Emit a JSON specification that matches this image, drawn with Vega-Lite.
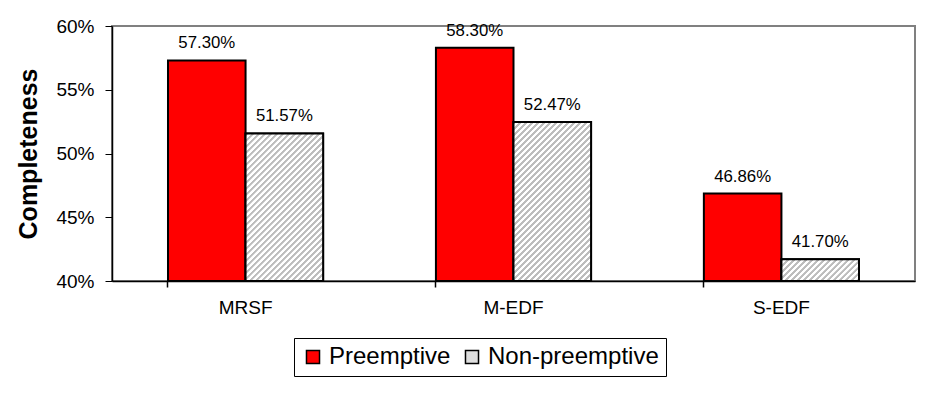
{
  "$schema": "https://vega.github.io/schema/vega-lite/v6.json",
  "width": 803,
  "height": 255,
  "autosize": {"type": "none"},
  "padding": {"left": 112, "top": 26, "right": 24, "bottom": 113},
  "background": "white",
  "config": {
    "font": "Liberation Sans",
    "view": {"stroke": "#808080", "strokeWidth": 2}
  },
  "data": {
    "values": [
      {"algo": "MRSF", "mode": "Preemptive", "value": 0.573},
      {"algo": "MRSF", "mode": "Non-preemptive", "value": 0.5157},
      {"algo": "M-EDF", "mode": "Preemptive", "value": 0.583},
      {"algo": "M-EDF", "mode": "Non-preemptive", "value": 0.5247},
      {"algo": "S-EDF", "mode": "Preemptive", "value": 0.4686},
      {"algo": "S-EDF", "mode": "Non-preemptive", "value": 0.417}
    ]
  },
  "encoding": {
    "x": {
      "field": "algo", "type": "nominal", "sort": ["MRSF", "M-EDF", "S-EDF"],
      "scale": {"paddingInner": 0.421, "paddingOuter": 0.209},
      "axis": {"title": null, "labelAngle": 0, "labelFontSize": 19, "labelColor": "black",
               "domainColor": "black", "domainWidth": 1.5, "tickColor": "black", "tickSize": 6, "tickWidth": 1.5,
               "bandPosition": 0, "labelPadding": 11}
    },
    "xOffset": {"field": "mode", "type": "nominal", "sort": ["Preemptive", "Non-preemptive"], "scale": {"paddingInner": 0, "paddingOuter": 0}},
    "y": {
      "field": "value", "type": "quantitative",
      "scale": {"domain": [0.4, 0.6], "zero": false, "nice": false},
      "axis": {"title": "Completeness", "titleFontSize": 25, "titleFontWeight": "bold", "titleColor": "black",
               "format": ".0%", "values": [0.4, 0.45, 0.5, 0.55, 0.6], "labelFontSize": 19, "labelColor": "black",
               "grid": false, "domainColor": "black", "domainWidth": 1.5, "tickColor": "black", "tickSize": 7,
               "labelPadding": 11, "titlePadding": 14}
    },
    "y2": {"datum": 0.4}
  },
  "layer": [
    {
      "mark": {"type": "bar", "stroke": "black", "strokeWidth": 2},
      "encoding": {
        "color": {
          "field": "mode", "type": "nominal", "sort": ["Preemptive", "Non-preemptive"],
          "scale": {"range": ["#ff0000", "#dedede"]},
          "legend": {"title": null, "orient": "none", "direction": "horizontal", "legendX": 182, "legendY": 312,
                     "strokeColor": "black", "padding": 7, "symbolType": "square", "symbolSize": 170,
                     "symbolStrokeColor": "black", "symbolStrokeWidth": 1.5, "labelFontSize": 24, "labelColor": "black",
                     "columnPadding": 9, "symbolOpacity": 1, "labelOffset": 4, "labelLimit": 400,
                     "encode": {"symbols": {"update": {"stroke": {"value": "black"}, "strokeWidth": {"value": 1.5}, "fill": [
                       {"test": "datum.value === 'Non-preemptive'", "value": {"gradient": "linear", "x1": 0, "y1": 0, "x2": 1, "y2": 1, "stops": [
                         {"offset": 0, "color": "#ffffff"}, {"offset": 0.02, "color": "#bdbdbd"}, {"offset": 0.12, "color": "#bdbdbd"}, {"offset": 0.14, "color": "#ffffff"},
                         {"offset": 0.25, "color": "#ffffff"}, {"offset": 0.27, "color": "#bdbdbd"}, {"offset": 0.37, "color": "#bdbdbd"}, {"offset": 0.39, "color": "#ffffff"},
                         {"offset": 0.5, "color": "#ffffff"}, {"offset": 0.52, "color": "#bdbdbd"}, {"offset": 0.62, "color": "#bdbdbd"}, {"offset": 0.64, "color": "#ffffff"},
                         {"offset": 0.75, "color": "#ffffff"}, {"offset": 0.77, "color": "#bdbdbd"}, {"offset": 0.87, "color": "#bdbdbd"}, {"offset": 0.89, "color": "#ffffff"},
                         {"offset": 1, "color": "#ffffff"}]}},
                       {"value": "#ff0000"}]}}}}
        }
      }
    },
    {
      "transform": [{"filter": "datum.mode === 'Non-preemptive' && datum.algo === 'MRSF'"}],
      "mark": {"type": "bar", "stroke": "black", "strokeWidth": 2,
               "fill": {"gradient": "linear", "x1": 0, "y1": 0, "x2": 0.6698, "y2": 1.275, "stops": [
{"offset":0,"color":"#ffffff"},{"offset":0.001,"color":"#bdbdbd"},{"offset":0.012,"color":"#bdbdbd"},{"offset":0.013,"color":"#ffffff"},
{"offset":0.025,"color":"#ffffff"},{"offset":0.026,"color":"#bdbdbd"},{"offset":0.037,"color":"#bdbdbd"},{"offset":0.038,"color":"#ffffff"},
{"offset":0.05,"color":"#ffffff"},{"offset":0.051,"color":"#bdbdbd"},{"offset":0.062,"color":"#bdbdbd"},{"offset":0.063,"color":"#ffffff"},
{"offset":0.075,"color":"#ffffff"},{"offset":0.076,"color":"#bdbdbd"},{"offset":0.087,"color":"#bdbdbd"},{"offset":0.088,"color":"#ffffff"},
{"offset":0.1,"color":"#ffffff"},{"offset":0.101,"color":"#bdbdbd"},{"offset":0.112,"color":"#bdbdbd"},{"offset":0.113,"color":"#ffffff"},
{"offset":0.125,"color":"#ffffff"},{"offset":0.126,"color":"#bdbdbd"},{"offset":0.137,"color":"#bdbdbd"},{"offset":0.138,"color":"#ffffff"},
{"offset":0.15,"color":"#ffffff"},{"offset":0.151,"color":"#bdbdbd"},{"offset":0.162,"color":"#bdbdbd"},{"offset":0.163,"color":"#ffffff"},
{"offset":0.175,"color":"#ffffff"},{"offset":0.176,"color":"#bdbdbd"},{"offset":0.187,"color":"#bdbdbd"},{"offset":0.188,"color":"#ffffff"},
{"offset":0.2,"color":"#ffffff"},{"offset":0.201,"color":"#bdbdbd"},{"offset":0.212,"color":"#bdbdbd"},{"offset":0.213,"color":"#ffffff"},
{"offset":0.225,"color":"#ffffff"},{"offset":0.226,"color":"#bdbdbd"},{"offset":0.237,"color":"#bdbdbd"},{"offset":0.238,"color":"#ffffff"},
{"offset":0.25,"color":"#ffffff"},{"offset":0.251,"color":"#bdbdbd"},{"offset":0.262,"color":"#bdbdbd"},{"offset":0.263,"color":"#ffffff"},
{"offset":0.275,"color":"#ffffff"},{"offset":0.276,"color":"#bdbdbd"},{"offset":0.287,"color":"#bdbdbd"},{"offset":0.288,"color":"#ffffff"},
{"offset":0.3,"color":"#ffffff"},{"offset":0.301,"color":"#bdbdbd"},{"offset":0.312,"color":"#bdbdbd"},{"offset":0.313,"color":"#ffffff"},
{"offset":0.325,"color":"#ffffff"},{"offset":0.326,"color":"#bdbdbd"},{"offset":0.337,"color":"#bdbdbd"},{"offset":0.338,"color":"#ffffff"},
{"offset":0.35,"color":"#ffffff"},{"offset":0.351,"color":"#bdbdbd"},{"offset":0.362,"color":"#bdbdbd"},{"offset":0.363,"color":"#ffffff"},
{"offset":0.375,"color":"#ffffff"},{"offset":0.376,"color":"#bdbdbd"},{"offset":0.387,"color":"#bdbdbd"},{"offset":0.388,"color":"#ffffff"},
{"offset":0.4,"color":"#ffffff"},{"offset":0.401,"color":"#bdbdbd"},{"offset":0.412,"color":"#bdbdbd"},{"offset":0.413,"color":"#ffffff"},
{"offset":0.425,"color":"#ffffff"},{"offset":0.426,"color":"#bdbdbd"},{"offset":0.437,"color":"#bdbdbd"},{"offset":0.438,"color":"#ffffff"},
{"offset":0.45,"color":"#ffffff"},{"offset":0.451,"color":"#bdbdbd"},{"offset":0.462,"color":"#bdbdbd"},{"offset":0.463,"color":"#ffffff"},
{"offset":0.475,"color":"#ffffff"},{"offset":0.476,"color":"#bdbdbd"},{"offset":0.487,"color":"#bdbdbd"},{"offset":0.488,"color":"#ffffff"},
{"offset":0.5,"color":"#ffffff"},{"offset":0.501,"color":"#bdbdbd"},{"offset":0.512,"color":"#bdbdbd"},{"offset":0.513,"color":"#ffffff"},
{"offset":0.525,"color":"#ffffff"},{"offset":0.526,"color":"#bdbdbd"},{"offset":0.537,"color":"#bdbdbd"},{"offset":0.538,"color":"#ffffff"},
{"offset":0.55,"color":"#ffffff"},{"offset":0.551,"color":"#bdbdbd"},{"offset":0.562,"color":"#bdbdbd"},{"offset":0.563,"color":"#ffffff"},
{"offset":0.575,"color":"#ffffff"},{"offset":0.576,"color":"#bdbdbd"},{"offset":0.587,"color":"#bdbdbd"},{"offset":0.588,"color":"#ffffff"},
{"offset":0.6,"color":"#ffffff"},{"offset":0.601,"color":"#bdbdbd"},{"offset":0.612,"color":"#bdbdbd"},{"offset":0.613,"color":"#ffffff"},
{"offset":0.625,"color":"#ffffff"},{"offset":0.626,"color":"#bdbdbd"},{"offset":0.637,"color":"#bdbdbd"},{"offset":0.638,"color":"#ffffff"},
{"offset":0.65,"color":"#ffffff"},{"offset":0.651,"color":"#bdbdbd"},{"offset":0.662,"color":"#bdbdbd"},{"offset":0.663,"color":"#ffffff"},
{"offset":0.675,"color":"#ffffff"},{"offset":0.676,"color":"#bdbdbd"},{"offset":0.687,"color":"#bdbdbd"},{"offset":0.688,"color":"#ffffff"},
{"offset":0.7,"color":"#ffffff"},{"offset":0.701,"color":"#bdbdbd"},{"offset":0.712,"color":"#bdbdbd"},{"offset":0.713,"color":"#ffffff"},
{"offset":0.725,"color":"#ffffff"},{"offset":0.726,"color":"#bdbdbd"},{"offset":0.737,"color":"#bdbdbd"},{"offset":0.738,"color":"#ffffff"},
{"offset":0.75,"color":"#ffffff"},{"offset":0.751,"color":"#bdbdbd"},{"offset":0.762,"color":"#bdbdbd"},{"offset":0.763,"color":"#ffffff"},
{"offset":0.775,"color":"#ffffff"},{"offset":0.776,"color":"#bdbdbd"},{"offset":0.787,"color":"#bdbdbd"},{"offset":0.788,"color":"#ffffff"},
{"offset":0.8,"color":"#ffffff"},{"offset":0.801,"color":"#bdbdbd"},{"offset":0.812,"color":"#bdbdbd"},{"offset":0.813,"color":"#ffffff"},
{"offset":0.825,"color":"#ffffff"},{"offset":0.826,"color":"#bdbdbd"},{"offset":0.837,"color":"#bdbdbd"},{"offset":0.838,"color":"#ffffff"},
{"offset":0.85,"color":"#ffffff"},{"offset":0.851,"color":"#bdbdbd"},{"offset":0.862,"color":"#bdbdbd"},{"offset":0.863,"color":"#ffffff"},
{"offset":0.875,"color":"#ffffff"},{"offset":0.876,"color":"#bdbdbd"},{"offset":0.887,"color":"#bdbdbd"},{"offset":0.888,"color":"#ffffff"},
{"offset":0.9,"color":"#ffffff"},{"offset":0.901,"color":"#bdbdbd"},{"offset":0.912,"color":"#bdbdbd"},{"offset":0.913,"color":"#ffffff"},
{"offset":0.925,"color":"#ffffff"},{"offset":0.926,"color":"#bdbdbd"},{"offset":0.937,"color":"#bdbdbd"},{"offset":0.938,"color":"#ffffff"},
{"offset":0.95,"color":"#ffffff"},{"offset":0.951,"color":"#bdbdbd"},{"offset":0.962,"color":"#bdbdbd"},{"offset":0.963,"color":"#ffffff"},
{"offset":0.975,"color":"#ffffff"},{"offset":0.976,"color":"#bdbdbd"},{"offset":0.987,"color":"#bdbdbd"},{"offset":0.988,"color":"#ffffff"},
{"offset":1,"color":"#ffffff"}]}}
    },
    {
      "transform": [{"filter": "datum.mode === 'Non-preemptive' && datum.algo === 'M-EDF'"}],
      "mark": {"type": "bar", "stroke": "black", "strokeWidth": 2,
               "fill": {"gradient": "linear", "x1": 0, "y1": 0, "x2": 0.5946, "y2": 1.2197, "stops": [
{"offset":0,"color":"#ffffff"},{"offset":0.001,"color":"#bdbdbd"},{"offset":0.012,"color":"#bdbdbd"},{"offset":0.013,"color":"#ffffff"},
{"offset":0.025,"color":"#ffffff"},{"offset":0.026,"color":"#bdbdbd"},{"offset":0.037,"color":"#bdbdbd"},{"offset":0.038,"color":"#ffffff"},
{"offset":0.05,"color":"#ffffff"},{"offset":0.051,"color":"#bdbdbd"},{"offset":0.062,"color":"#bdbdbd"},{"offset":0.063,"color":"#ffffff"},
{"offset":0.075,"color":"#ffffff"},{"offset":0.076,"color":"#bdbdbd"},{"offset":0.087,"color":"#bdbdbd"},{"offset":0.088,"color":"#ffffff"},
{"offset":0.1,"color":"#ffffff"},{"offset":0.101,"color":"#bdbdbd"},{"offset":0.112,"color":"#bdbdbd"},{"offset":0.113,"color":"#ffffff"},
{"offset":0.125,"color":"#ffffff"},{"offset":0.126,"color":"#bdbdbd"},{"offset":0.137,"color":"#bdbdbd"},{"offset":0.138,"color":"#ffffff"},
{"offset":0.15,"color":"#ffffff"},{"offset":0.151,"color":"#bdbdbd"},{"offset":0.162,"color":"#bdbdbd"},{"offset":0.163,"color":"#ffffff"},
{"offset":0.175,"color":"#ffffff"},{"offset":0.176,"color":"#bdbdbd"},{"offset":0.187,"color":"#bdbdbd"},{"offset":0.188,"color":"#ffffff"},
{"offset":0.2,"color":"#ffffff"},{"offset":0.201,"color":"#bdbdbd"},{"offset":0.212,"color":"#bdbdbd"},{"offset":0.213,"color":"#ffffff"},
{"offset":0.225,"color":"#ffffff"},{"offset":0.226,"color":"#bdbdbd"},{"offset":0.237,"color":"#bdbdbd"},{"offset":0.238,"color":"#ffffff"},
{"offset":0.25,"color":"#ffffff"},{"offset":0.251,"color":"#bdbdbd"},{"offset":0.262,"color":"#bdbdbd"},{"offset":0.263,"color":"#ffffff"},
{"offset":0.275,"color":"#ffffff"},{"offset":0.276,"color":"#bdbdbd"},{"offset":0.287,"color":"#bdbdbd"},{"offset":0.288,"color":"#ffffff"},
{"offset":0.3,"color":"#ffffff"},{"offset":0.301,"color":"#bdbdbd"},{"offset":0.312,"color":"#bdbdbd"},{"offset":0.313,"color":"#ffffff"},
{"offset":0.325,"color":"#ffffff"},{"offset":0.326,"color":"#bdbdbd"},{"offset":0.337,"color":"#bdbdbd"},{"offset":0.338,"color":"#ffffff"},
{"offset":0.35,"color":"#ffffff"},{"offset":0.351,"color":"#bdbdbd"},{"offset":0.362,"color":"#bdbdbd"},{"offset":0.363,"color":"#ffffff"},
{"offset":0.375,"color":"#ffffff"},{"offset":0.376,"color":"#bdbdbd"},{"offset":0.387,"color":"#bdbdbd"},{"offset":0.388,"color":"#ffffff"},
{"offset":0.4,"color":"#ffffff"},{"offset":0.401,"color":"#bdbdbd"},{"offset":0.412,"color":"#bdbdbd"},{"offset":0.413,"color":"#ffffff"},
{"offset":0.425,"color":"#ffffff"},{"offset":0.426,"color":"#bdbdbd"},{"offset":0.437,"color":"#bdbdbd"},{"offset":0.438,"color":"#ffffff"},
{"offset":0.45,"color":"#ffffff"},{"offset":0.451,"color":"#bdbdbd"},{"offset":0.462,"color":"#bdbdbd"},{"offset":0.463,"color":"#ffffff"},
{"offset":0.475,"color":"#ffffff"},{"offset":0.476,"color":"#bdbdbd"},{"offset":0.487,"color":"#bdbdbd"},{"offset":0.488,"color":"#ffffff"},
{"offset":0.5,"color":"#ffffff"},{"offset":0.501,"color":"#bdbdbd"},{"offset":0.512,"color":"#bdbdbd"},{"offset":0.513,"color":"#ffffff"},
{"offset":0.525,"color":"#ffffff"},{"offset":0.526,"color":"#bdbdbd"},{"offset":0.537,"color":"#bdbdbd"},{"offset":0.538,"color":"#ffffff"},
{"offset":0.55,"color":"#ffffff"},{"offset":0.551,"color":"#bdbdbd"},{"offset":0.562,"color":"#bdbdbd"},{"offset":0.563,"color":"#ffffff"},
{"offset":0.575,"color":"#ffffff"},{"offset":0.576,"color":"#bdbdbd"},{"offset":0.587,"color":"#bdbdbd"},{"offset":0.588,"color":"#ffffff"},
{"offset":0.6,"color":"#ffffff"},{"offset":0.601,"color":"#bdbdbd"},{"offset":0.612,"color":"#bdbdbd"},{"offset":0.613,"color":"#ffffff"},
{"offset":0.625,"color":"#ffffff"},{"offset":0.626,"color":"#bdbdbd"},{"offset":0.637,"color":"#bdbdbd"},{"offset":0.638,"color":"#ffffff"},
{"offset":0.65,"color":"#ffffff"},{"offset":0.651,"color":"#bdbdbd"},{"offset":0.662,"color":"#bdbdbd"},{"offset":0.663,"color":"#ffffff"},
{"offset":0.675,"color":"#ffffff"},{"offset":0.676,"color":"#bdbdbd"},{"offset":0.687,"color":"#bdbdbd"},{"offset":0.688,"color":"#ffffff"},
{"offset":0.7,"color":"#ffffff"},{"offset":0.701,"color":"#bdbdbd"},{"offset":0.712,"color":"#bdbdbd"},{"offset":0.713,"color":"#ffffff"},
{"offset":0.725,"color":"#ffffff"},{"offset":0.726,"color":"#bdbdbd"},{"offset":0.737,"color":"#bdbdbd"},{"offset":0.738,"color":"#ffffff"},
{"offset":0.75,"color":"#ffffff"},{"offset":0.751,"color":"#bdbdbd"},{"offset":0.762,"color":"#bdbdbd"},{"offset":0.763,"color":"#ffffff"},
{"offset":0.775,"color":"#ffffff"},{"offset":0.776,"color":"#bdbdbd"},{"offset":0.787,"color":"#bdbdbd"},{"offset":0.788,"color":"#ffffff"},
{"offset":0.8,"color":"#ffffff"},{"offset":0.801,"color":"#bdbdbd"},{"offset":0.812,"color":"#bdbdbd"},{"offset":0.813,"color":"#ffffff"},
{"offset":0.825,"color":"#ffffff"},{"offset":0.826,"color":"#bdbdbd"},{"offset":0.837,"color":"#bdbdbd"},{"offset":0.838,"color":"#ffffff"},
{"offset":0.85,"color":"#ffffff"},{"offset":0.851,"color":"#bdbdbd"},{"offset":0.862,"color":"#bdbdbd"},{"offset":0.863,"color":"#ffffff"},
{"offset":0.875,"color":"#ffffff"},{"offset":0.876,"color":"#bdbdbd"},{"offset":0.887,"color":"#bdbdbd"},{"offset":0.888,"color":"#ffffff"},
{"offset":0.9,"color":"#ffffff"},{"offset":0.901,"color":"#bdbdbd"},{"offset":0.912,"color":"#bdbdbd"},{"offset":0.913,"color":"#ffffff"},
{"offset":0.925,"color":"#ffffff"},{"offset":0.926,"color":"#bdbdbd"},{"offset":0.937,"color":"#bdbdbd"},{"offset":0.938,"color":"#ffffff"},
{"offset":0.95,"color":"#ffffff"},{"offset":0.951,"color":"#bdbdbd"},{"offset":0.962,"color":"#bdbdbd"},{"offset":0.963,"color":"#ffffff"},
{"offset":0.975,"color":"#ffffff"},{"offset":0.976,"color":"#bdbdbd"},{"offset":0.987,"color":"#bdbdbd"},{"offset":0.988,"color":"#ffffff"},
{"offset":1,"color":"#ffffff"}]}}
    },
    {
      "transform": [{"filter": "datum.mode === 'Non-preemptive' && datum.algo === 'S-EDF'"}],
      "mark": {"type": "bar", "stroke": "black", "strokeWidth": 2,
               "fill": {"gradient": "linear", "x1": 0, "y1": 0, "x2": 2.8722, "y2": 0.8033, "stops": [
{"offset":0,"color":"#ffffff"},{"offset":0.001,"color":"#bdbdbd"},{"offset":0.012,"color":"#bdbdbd"},{"offset":0.013,"color":"#ffffff"},
{"offset":0.025,"color":"#ffffff"},{"offset":0.026,"color":"#bdbdbd"},{"offset":0.037,"color":"#bdbdbd"},{"offset":0.038,"color":"#ffffff"},
{"offset":0.05,"color":"#ffffff"},{"offset":0.051,"color":"#bdbdbd"},{"offset":0.062,"color":"#bdbdbd"},{"offset":0.063,"color":"#ffffff"},
{"offset":0.075,"color":"#ffffff"},{"offset":0.076,"color":"#bdbdbd"},{"offset":0.087,"color":"#bdbdbd"},{"offset":0.088,"color":"#ffffff"},
{"offset":0.1,"color":"#ffffff"},{"offset":0.101,"color":"#bdbdbd"},{"offset":0.112,"color":"#bdbdbd"},{"offset":0.113,"color":"#ffffff"},
{"offset":0.125,"color":"#ffffff"},{"offset":0.126,"color":"#bdbdbd"},{"offset":0.137,"color":"#bdbdbd"},{"offset":0.138,"color":"#ffffff"},
{"offset":0.15,"color":"#ffffff"},{"offset":0.151,"color":"#bdbdbd"},{"offset":0.162,"color":"#bdbdbd"},{"offset":0.163,"color":"#ffffff"},
{"offset":0.175,"color":"#ffffff"},{"offset":0.176,"color":"#bdbdbd"},{"offset":0.187,"color":"#bdbdbd"},{"offset":0.188,"color":"#ffffff"},
{"offset":0.2,"color":"#ffffff"},{"offset":0.201,"color":"#bdbdbd"},{"offset":0.212,"color":"#bdbdbd"},{"offset":0.213,"color":"#ffffff"},
{"offset":0.225,"color":"#ffffff"},{"offset":0.226,"color":"#bdbdbd"},{"offset":0.237,"color":"#bdbdbd"},{"offset":0.238,"color":"#ffffff"},
{"offset":0.25,"color":"#ffffff"},{"offset":0.251,"color":"#bdbdbd"},{"offset":0.262,"color":"#bdbdbd"},{"offset":0.263,"color":"#ffffff"},
{"offset":0.275,"color":"#ffffff"},{"offset":0.276,"color":"#bdbdbd"},{"offset":0.287,"color":"#bdbdbd"},{"offset":0.288,"color":"#ffffff"},
{"offset":0.3,"color":"#ffffff"},{"offset":0.301,"color":"#bdbdbd"},{"offset":0.312,"color":"#bdbdbd"},{"offset":0.313,"color":"#ffffff"},
{"offset":0.325,"color":"#ffffff"},{"offset":0.326,"color":"#bdbdbd"},{"offset":0.337,"color":"#bdbdbd"},{"offset":0.338,"color":"#ffffff"},
{"offset":0.35,"color":"#ffffff"},{"offset":0.351,"color":"#bdbdbd"},{"offset":0.362,"color":"#bdbdbd"},{"offset":0.363,"color":"#ffffff"},
{"offset":0.375,"color":"#ffffff"},{"offset":0.376,"color":"#bdbdbd"},{"offset":0.387,"color":"#bdbdbd"},{"offset":0.388,"color":"#ffffff"},
{"offset":0.4,"color":"#ffffff"},{"offset":0.401,"color":"#bdbdbd"},{"offset":0.412,"color":"#bdbdbd"},{"offset":0.413,"color":"#ffffff"},
{"offset":0.425,"color":"#ffffff"},{"offset":0.426,"color":"#bdbdbd"},{"offset":0.437,"color":"#bdbdbd"},{"offset":0.438,"color":"#ffffff"},
{"offset":1,"color":"#ffffff"}]}}
    },
    {
      "mark": {"type": "text", "baseline": "bottom", "dy": -8, "fontSize": 16.8, "color": "black"},
      "encoding": {"text": {"field": "value", "type": "quantitative", "format": ".2%"}}
    }
  ]
}
